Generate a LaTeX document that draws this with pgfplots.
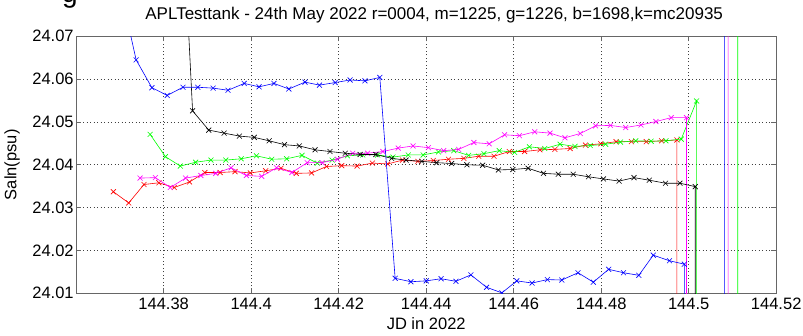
\documentclass[border=0pt]{standalone}
\usepackage{fontspec}
\setmainfont{Liberation Sans}
\usepackage{pgfplots}
\pgfplotsset{compat=1.18}
\definecolor{mblue}{RGB}{0,0,255}
\definecolor{mred}{RGB}{255,0,0}
\definecolor{mgreen}{RGB}{0,255,0}
\definecolor{mmag}{RGB}{255,0,255}
\begin{document}
\begin{tikzpicture}
\begin{axis}[
  scale only axis, width=700pt, height=257pt,
  at={(0pt,0pt)}, anchor=south west,
  xmin=144.36, xmax=144.52, ymin=24.01, ymax=24.07,
  xtick={144.38,144.40,144.42,144.44,144.46,144.48,144.50,144.52},
  xticklabels={144.38,144.4,144.42,144.44,144.46,144.48,144.5,144.52},
  ytick={24.01,24.02,24.03,24.04,24.05,24.06,24.07},
  yticklabels={24.01,24.02,24.03,24.04,24.05,24.06,24.07},
  tick align=inside, xtick pos=both, ytick pos=both,
  major tick length=5pt,
  tick style={black!60, line width=0.9pt},
  axis line style={black!60, line width=1.1pt},
  grid=major,
  major grid style={black!75, line width=0.6pt, dash pattern=on 0.9pt off 2.6pt},
  ticklabel style={font=\fontsize{16.5}{18}\selectfont},
  xticklabel style={yshift=-1pt},
  yticklabel style={xshift=1pt},
  title={APLTesttank - 24th May 2022 r=0004, m=1225, g=1226, b=1698,k=mc20935},
  title style={at={(axis description cs:0.5,1)}, anchor=base, yshift=11pt, xshift=8pt, font=\fontsize{17}{19}\selectfont},
  xlabel={JD in 2022},
  xlabel style={at={(axis description cs:0.5,-0.119)}, anchor=center, font=\fontsize{16.5}{18}\selectfont},
  ylabel={Saln(psu)},
  ylabel style={at={(axis description cs:-0.0914,0.5)}, anchor=center, font=\fontsize{16.5}{18}\selectfont},
  clip marker paths=true,
  every axis plot/.append style={line width=0.6pt, mark=x, mark size=3.5pt},
]
% red
\addplot[mred] table {
144.3685 24.0337
144.3720 24.0311
144.3755 24.0354
144.3789 24.0358
144.3824 24.0347
144.3859 24.0360
144.3894 24.0382
144.3929 24.0382
144.3963 24.0384
144.3998 24.0381
144.4033 24.0386
144.4068 24.0392
144.4103 24.0380
144.4138 24.0381
144.4172 24.0396
144.4207 24.0398
144.4242 24.0397
144.4277 24.0404
144.4312 24.0402
144.4346 24.0411
144.4381 24.0408
144.4416 24.0410
144.4451 24.0413
144.4486 24.0415
144.4520 24.0420
144.4555 24.0420
144.4590 24.0431
144.4625 24.0431
144.4660 24.0435
144.4694 24.0436
144.4729 24.0438
144.4764 24.0446
144.4799 24.0449
144.4834 24.0454
144.4869 24.0454
144.4903 24.0454
144.4938 24.0456
144.4973 24.0458
144.4973 23.9500
};
% green
\addplot[mgreen] table {
144.3769 24.0471
144.3804 24.0419
144.3838 24.0397
144.3873 24.0406
144.3908 24.0411
144.3942 24.0411
144.3977 24.0414
144.4012 24.0421
144.4047 24.0413
144.4081 24.0414
144.4116 24.0422
144.4151 24.0404
144.4185 24.0411
144.4220 24.0421
144.4255 24.0423
144.4289 24.0423
144.4324 24.0418
144.4359 24.0423
144.4393 24.0423
144.4428 24.0430
144.4463 24.0433
144.4497 24.0422
144.4532 24.0426
144.4567 24.0433
144.4602 24.0429
144.4636 24.0442
144.4671 24.0438
144.4706 24.0448
144.4740 24.0443
144.4775 24.0445
144.4810 24.0448
144.4844 24.0453
144.4879 24.0456
144.4914 24.0455
144.4948 24.0456
144.4983 24.0460
144.5018 24.0549
144.5018 23.9500
144.5112 23.9500
144.5112 24.1000
};
% magenta
\addplot[mmag] table {
144.3746 24.0369
144.3781 24.0370
144.3815 24.0347
144.3850 24.0369
144.3885 24.0375
144.3919 24.0380
144.3954 24.0393
144.3989 24.0375
144.4024 24.0373
144.4058 24.0393
144.4093 24.0382
144.4128 24.0405
144.4162 24.0405
144.4197 24.0413
144.4232 24.0427
144.4266 24.0427
144.4301 24.0431
144.4336 24.0439
144.4370 24.0444
144.4405 24.0440
144.4440 24.0433
144.4474 24.0436
144.4509 24.0452
144.4544 24.0449
144.4579 24.0470
144.4613 24.0468
144.4648 24.0477
144.4683 24.0474
144.4717 24.0463
144.4752 24.0473
144.4787 24.0491
144.4821 24.0492
144.4856 24.0487
144.4891 24.0493
144.4925 24.0501
144.4960 24.0510
144.4995 24.0510
144.4995 23.9500
144.5090 23.9500
144.5090 24.1000
};
% black
\addplot[black] table {
144.3833 24.1200
144.3866 24.0526
144.3903 24.0481
144.3938 24.0474
144.3973 24.0467
144.4007 24.0464
144.4041 24.0456
144.4076 24.0447
144.4110 24.0444
144.4146 24.0435
144.4180 24.0431
144.4215 24.0427
144.4249 24.0424
144.4285 24.0424
144.4321 24.0415
144.4354 24.0411
144.4390 24.0408
144.4424 24.0405
144.4458 24.0403
144.4493 24.0400
144.4529 24.0399
144.4565 24.0388
144.4598 24.0389
144.4633 24.0392
144.4668 24.0380
144.4702 24.0378
144.4736 24.0378
144.4771 24.0372
144.4805 24.0367
144.4841 24.0362
144.4875 24.0370
144.4910 24.0364
144.4947 24.0357
144.4980 24.0357
144.5015 24.0349
144.5015 23.9500
};
% blue
\addplot[mblue] table {
144.3702 24.0805
144.3737 24.0645
144.3773 24.0580
144.3808 24.0562
144.3844 24.0581
144.3878 24.0581
144.3913 24.0579
144.3947 24.0574
144.3984 24.0590
144.4018 24.0582
144.4052 24.0590
144.4086 24.0577
144.4123 24.0593
144.4156 24.0586
144.4192 24.0592
144.4226 24.0598
144.4260 24.0596
144.4294 24.0604
144.4329 24.0135
144.4365 24.0127
144.4400 24.0129
144.4434 24.0134
144.4468 24.0128
144.4502 24.0143
144.4538 24.0114
144.4573 24.0101
144.4607 24.0129
144.4642 24.0124
144.4677 24.0132
144.4710 24.0131
144.4747 24.0148
144.4782 24.0126
144.4817 24.0156
144.4851 24.0148
144.4886 24.0142
144.4919 24.0189
144.4956 24.0176
144.4990 24.0168
144.4990 23.9500
144.5082 23.9500
144.5082 24.1000
};
\end{axis}
\node[anchor=base, font=\fontsize{28}{30}\selectfont] at (-6.2pt,290.3pt) {g};
\pgfresetboundingbox
\useasboundingbox (-76.2pt,-41.7pt) rectangle (726.8pt,293.3pt);
\end{tikzpicture}
\end{document}
